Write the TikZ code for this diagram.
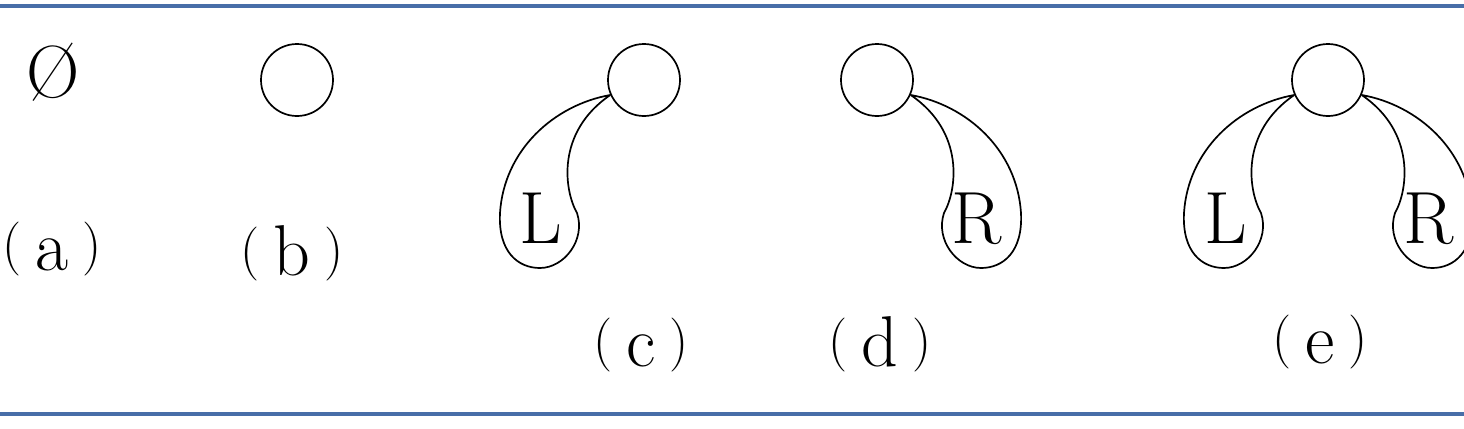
\documentclass[tikz,border=0pt]{standalone}
\definecolor{rulecol}{RGB}{72,110,168}
\newcommand{\figlab}[1]{\raisebox{4pt}{\fontsize{27}{30}\selectfont(}\hspace{7pt}{\fontsize{36}{40}\selectfont #1}\hspace{7pt}\raisebox{4pt}{\fontsize{27}{30}\selectfont)}}
\tikzset{
  nodecirc/.style={circle,draw,minimum size=36pt,inner sep=0pt,line width=0.85pt},
  loopline/.style={line width=0.85pt},
  letter/.style={font=\fontsize{37}{40}\selectfont,inner sep=0pt,anchor=base},
  caption/.style={inner sep=0pt,anchor=base},
  rulebar/.style={draw=rulecol,line width=1.6pt},
}
\newcommand{\leafloop}[1]{%
  \draw[loopline] (#1) .. controls (-90,25) and (-140,70) .. (-144,133)
    .. controls (-146,172) and (-126,188) .. (-104,188)
    .. controls (-80,188) and (-58,160) .. (-67,133)
    .. controls (-80,110) and (-88,52) .. (#1);}
\begin{document}
\begin{tikzpicture}[x=0.5pt,y=-0.5pt]
\useasboundingbox (0,0) rectangle (1464,429);
\coordinate (tl) at (0,6);
\coordinate (tr) at (1464,6);
\coordinate (bl) at (0,414);
\coordinate (br) at (1464,414);
\draw[rulebar] (tl) -- (tr);
\draw[rulebar] (bl) -- (br);

% (a)
\node[inner sep=0pt,font=\fontsize{37}{40}\selectfont] (empty) at (53,72) {\O};
\node[caption] (la) at (52,270) {\figlab{a}};

% (b)
\node[nodecirc] (cb) at (297,80) {};
\node[caption] (lb) at (292,275) {\figlab{b}};

% (c)
\node[nodecirc] (cc) at (644,80) {};
\begin{scope}[shift={(644,80)}]
  \leafloop{cc.204}
\end{scope}
\node[letter] (Lc) at (541,243) {L};
\node[caption] (lc) at (641,366) {\figlab{c}};

% (d)
\node[nodecirc] (cd) at (877,80) {};
\begin{scope}[shift={(877,80)},xscale=-1]
  \leafloop{cd.336}
\end{scope}
\node[letter] (Rd) at (977,243) {R};
\node[caption] (ld) at (880,366) {\figlab{d}};

% (e)
\node[nodecirc] (ce) at (1328,80) {};
\begin{scope}[shift={(1328,80)}]
  \leafloop{ce.204}
\end{scope}
\begin{scope}[shift={(1328,80)},xscale=-1]
  \leafloop{ce.336}
\end{scope}
\node[letter] (Le) at (1226,243) {L};
\node[letter] (Re) at (1429,243) {R};
\node[caption] (le) at (1320,363) {\figlab{e}};
\end{tikzpicture}
\end{document}
